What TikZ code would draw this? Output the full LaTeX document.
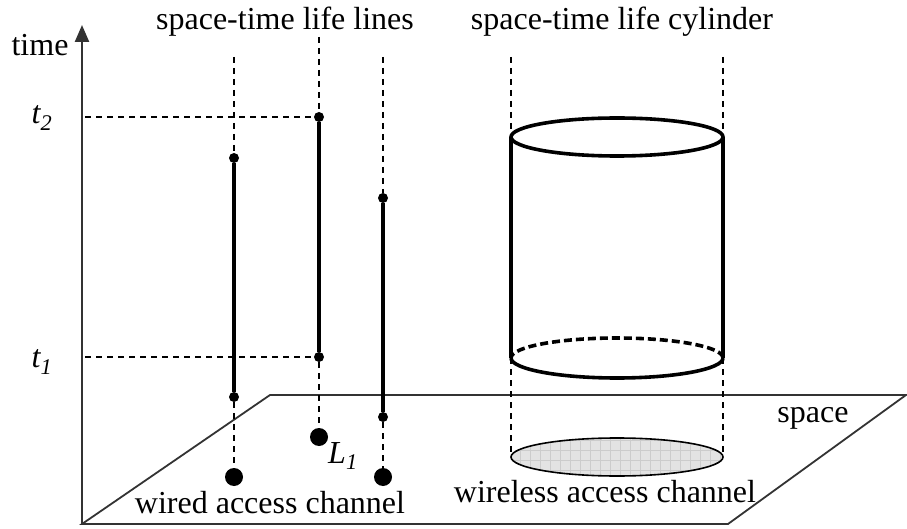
\documentclass[tikz,border=0pt]{standalone}
\usepackage{fontspec}
\setmainfont{Liberation Serif}
\usetikzlibrary{arrows.meta}

\tikzset{
  guide/.style={line width=1.4pt, dash pattern=on 6pt off 5pt},
  lifeline/.style={line width=4pt},
  tick/.style={circle, fill, inner sep=0pt, minimum size=10pt},
  spot/.style={circle, fill, inner sep=0pt, minimum size=18pt},
  txt/.style={inner sep=0pt, font=\fontsize{32}{38}\selectfont}
}

\begin{document}
\begin{tikzpicture}[x=1pt, y=-1pt]

\useasboundingbox (0,0) rectangle (907,529);

% Space plane (drawn first, life lines lie over it)
\draw[black!80, line width=1.8pt, line join=miter] (82,524) -- (270,395) -- (906,395) -- (728,524) -- cycle;

% Time axis
\coordinate (origin) at (82,524);
\coordinate (tip) at (82,25);
\draw[black!80, line width=2.4pt, -{Triangle[length=17pt, width=14pt]}] (origin) -- (tip);
\node[txt] (time) at (40,45) {time};

% Life lines: index/x/top of guide/start/end/ground
\foreach \n/\x/\top/\a/\b/\g in {1/234/57/158/397/477, 2/319/37/117/357/437, 3/383/57/198/417/477}
{
  \coordinate (top\n) at (\x,\top);
  \node[tick] (a\n) at (\x,\a) {};
  \node[tick] (b\n) at (\x,\b) {};
  \node[spot] (g\n) at (\x,\g) {};
  \draw[guide] (top\n) -- (a\n);
  \draw[lifeline] (a\n) -- (b\n);
  \draw[guide] (b\n) -- (g\n);
}

% Time marks t2 and t1
\coordinate (ax2) at (85,117);
\coordinate (ax1) at (85,357);
\draw[guide] (ax2) -- (a2);
\draw[guide] (ax1) -- (b2);
\node[txt] (t2) at (42,118) {\textit{t\textsubscript{2}}};
\node[txt] (t1) at (42,362) {\textit{t\textsubscript{1}}};
\node[txt, anchor=west] (L1) at (328,456) {\textit{L\textsubscript{1}}};

% Life cylinder
\coordinate (cyltopL) at (511,137);
\coordinate (cyltopR) at (723,137);
\coordinate (cylbotL) at (511,358);
\coordinate (cylbotR) at (723,358);
\coordinate (gndL) at (511,457);
\coordinate (gndR) at (723,457);
\draw[guide] (511,57) -- (cyltopL);
\draw[guide] (723,57) -- (cyltopR);
\draw[line width=3.6pt] (617,137) ellipse[x radius=106, y radius=19];
\draw[line width=3.6pt] (cyltopL) -- (cylbotL);
\draw[line width=3.6pt] (cyltopR) -- (cylbotR);
\draw[line width=3.6pt] (cylbotR) arc[start angle=0, end angle=180, x radius=106, y radius=20];
\draw[line width=3.6pt, dash pattern=on 8pt off 4pt] (cylbotR) arc[start angle=0, end angle=-180, x radius=106, y radius=20];
\draw[guide] (cylbotL) -- (gndL);
\draw[guide] (cylbotR) -- (gndR);

% Wireless area on the ground
\begin{scope}
  \clip (617,457) ellipse[x radius=106, y radius=19];
  \fill[gray!22] (500,430) rectangle (730,480);
  \foreach \gx in {510,520,...,730}
    \draw[gray!40, line width=0.6pt] (\gx,430) -- (\gx,480);
  \foreach \gy in {440,450,...,480}
    \draw[gray!40, line width=0.6pt] (500,\gy) -- (730,\gy);
\end{scope}
\draw[line width=1.6pt] (617,457) ellipse[x radius=106, y radius=19];

% Labels
\node[txt] (lineslbl) at (285,22) {space-time life lines};
\node[txt] (cyllbl) at (622,22) {space-time life cylinder};
\node[txt] (wired) at (270,503) {wired access channel};
\node[txt] (wireless) at (605,492) {wireless access channel};
\node[txt] (space) at (813,418) {space};

\end{tikzpicture}
\end{document}
